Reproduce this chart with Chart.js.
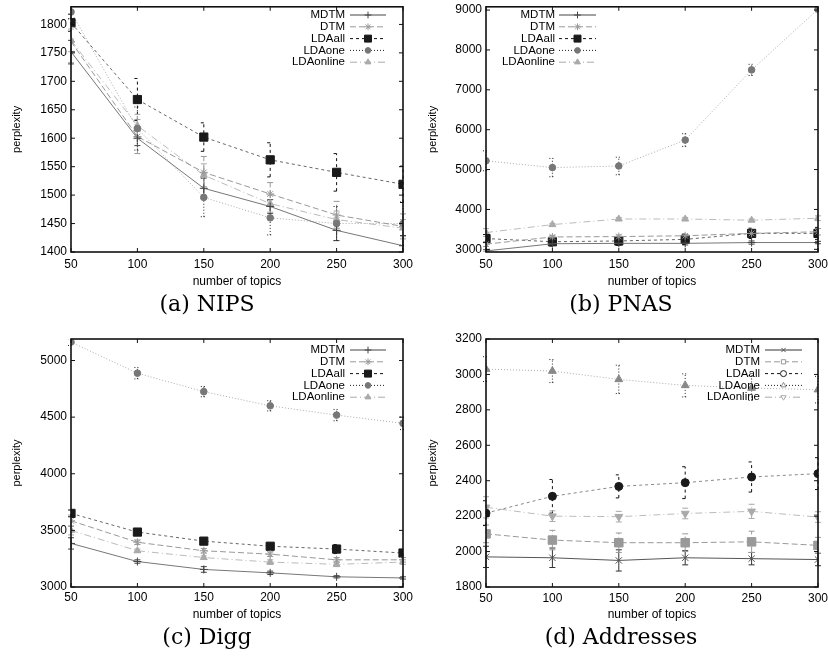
<!DOCTYPE html>
<html>
<head>
<meta charset="utf-8">
<script src="https://cdn.jsdelivr.net/npm/chart.js@4.4.0/dist/chart.umd.min.js"></script>
<style>
body { margin: 0; background: #fff; width: 828px; height: 662px; position: relative; overflow: hidden; }
canvas { position: absolute; }
.cap { position: absolute; width: 414px; text-align: center; font-family: "DejaVu Serif", serif; font-size: 22px; line-height: 26px; color: #000; }
</style>
</head>
<body>
<canvas id="nips" width="414" height="300" style="left:0;top:0"></canvas>
<canvas id="pnas" width="414" height="300" style="left:414px;top:0"></canvas>
<canvas id="digg" width="414" height="300" style="left:0;top:330px"></canvas>
<canvas id="addr" width="414" height="300" style="left:414px;top:330px"></canvas>
<div class="cap" style="left:0;top:291px">(a) NIPS</div>
<div class="cap" style="left:414px;top:291px">(b) PNAS</div>
<div class="cap" style="left:0;top:624px">(c) Digg</div>
<div class="cap" style="left:414px;top:624px">(d) Addresses</div>
<script>
var topics = [50, 100, 150, 200, 250, 300];
var methods = ["MDTM", "DTM", "LDAall", "LDAone", "LDAonline"];

// rows follow the order of methods
var nipsPerplexity = [
	[1752, 1600, 1512, 1480, 1438, 1411],
	[1770, 1603, 1540, 1502, 1465, 1445],
	[1803, 1668, 1602, 1562, 1540, 1519],
	[1822, 1617, 1496, 1460, 1450, 1450],
	[1772, 1622, 1535, 1485, 1457, 1442]
];
var nipsError = [
	[20, 13, 18, 12, 18, 18],
	[40, 30, 28, 20, 24, 22],
	[15, 37, 25, 30, 33, 32],
	[12, 38, 34, 30, 30, 38],
	[20, 20, 20, 15, 15, 15]
];
var nipsTicks = [1400, 1450, 1500, 1550, 1600, 1650, 1700, 1750, 1800];
var nipsRange = [1400, 1831];

var pnasPerplexity = [
	[2960, 3140, 3150, 3150, 3170, 3170],
	[3130, 3310, 3320, 3340, 3400, 3440],
	[3270, 3190, 3210, 3250, 3400, 3400],
	[5220, 5050, 5090, 5740, 7500, 9020],
	[3420, 3620, 3760, 3760, 3730, 3780]
];
var pnasError = [
	[30, 40, 50, 40, 40, 30],
	[60, 40, 40, 40, 80, 80],
	[100, 110, 110, 130, 130, 150],
	[250, 230, 220, 160, 140, 60],
	[100, 30, 40, 40, 30, 60]
];
var pnasTicks = [3000, 4000, 5000, 6000, 7000, 8000, 9000];
var pnasRange = [2933, 9082];

var diggPerplexity = [
	[3385, 3225, 3155, 3125, 3090, 3080],
	[3585, 3395, 3320, 3290, 3240, 3240],
	[3650, 3485, 3405, 3360, 3335, 3300],
	[5163, 4888, 4725, 4600, 4518, 4445],
	[3500, 3320, 3260, 3220, 3200, 3220]
];
var diggError = [
	[50, 15, 25, 15, 10, 10],
	[50, 20, 20, 20, 20, 20],
	[30, 15, 25, 25, 40, 30],
	[30, 50, 45, 45, 50, 55],
	[40, 15, 15, 20, 20, 20]
];
var diggTicks = [3000, 3500, 4000, 4500, 5000];
var diggRange = [3000, 5190];

var addrPerplexity = [
	[1970, 1965, 1950, 1965, 1960, 1955],
	[2100, 2065, 2050, 2050, 2055, 2035],
	[2217, 2312, 2368, 2389, 2421, 2440],
	[3030, 3019, 2972, 2938, 2923, 2914],
	[2250, 2200, 2197, 2215, 2227, 2195]
];
var addrError = [
	[60, 55, 60, 40, 35, 35],
	[50, 55, 55, 50, 60, 45],
	[70, 95, 65, 90, 85, 90],
	[70, 65, 80, 65, 70, 75],
	[60, 30, 30, 30, 40, 30]
];
var addrTicks = [1800, 2000, 2200, 2400, 2600, 2800, 3000, 3200];
var addrRange = [1800, 3200];

var FONT = '"Liberation Sans", Arial, sans-serif';

// gnuplot-ish line types, one per method
var lineTypes = [
	{ line: '#777', dash: [], point: 'cross', fill: '#444', mark: '#444', r: 4, err: '#444' },
	{ line: '#999', dash: [6, 3], point: 'star', fill: '#999', mark: '#999', r: 4, err: '#999' },
	{ line: '#666', dash: [3, 3], point: 'rect', fill: '#1a1a1a', mark: '#1a1a1a', r: 5.8, err: '#111' },
	{ line: '#aaa', dash: [1, 2], point: 'circle', fill: '#777', mark: '#777', r: 3.3, err: '#222' },
	{ line: '#bbb', dash: [7, 3, 1, 3], point: 'triangle', fill: '#aaa', mark: '#aaa', r: 4, err: '#aaa' }
];
var addrTypes = [
	{ line: '#555', dash: [], point: 'crossRot', fill: '#555', mark: '#555', r: 4.5, err: '#333' },
	{ line: '#999', dash: [6, 3], point: 'rect', fill: '#999', mark: '#999', r: 6, err: '#999' },
	{ line: '#888', dash: [3, 3], point: 'circle', fill: '#1a1a1a', mark: '#1a1a1a', r: 4, err: '#111' },
	{ line: '#aaa', dash: [1, 2], point: 'triangle', fill: '#888', mark: '#888', r: 4.5, err: '#222' },
	{ line: '#bbb', dash: [7, 3, 1, 3], point: 'triangle', fill: '#aaa', mark: '#aaa', r: 4.5, rot: 180, err: '#aaa' }
];

var errorBars = {
	id: 'errorBars',
	beforeDatasetsDraw: function(chart) {
		var ctx = chart.ctx, a = chart.chartArea, ys = chart.scales.y;
		ctx.save();
		ctx.beginPath();
		ctx.rect(a.left - 6, a.top, a.right - a.left + 12, a.bottom - a.top);
		ctx.clip();
		chart.data.datasets.forEach(function(ds, i) {
			var meta = chart.getDatasetMeta(i);
			ctx.strokeStyle = ds.errorColor;
			ctx.lineWidth = 1;
			ctx.setLineDash(ds.borderDash);
			meta.data.forEach(function(pt, j) {
				var v = ds.data[j].y, e = ds.errors[j];
				var y1 = ys.getPixelForValue(v - e), y2 = ys.getPixelForValue(v + e);
				ctx.beginPath();
				ctx.moveTo(pt.x, y1); ctx.lineTo(pt.x, y2);
				ctx.moveTo(pt.x - 3, y1); ctx.lineTo(pt.x + 3, y1);
				ctx.moveTo(pt.x - 3, y2); ctx.lineTo(pt.x + 3, y2);
				ctx.stroke();
			});
		});
		ctx.restore();
	}
};

var keyBox = {
	id: 'keyBox',
	afterDatasetsDraw: function(chart, args, o) {
		var ctx = chart.ctx;
		chart.data.datasets.forEach(function(ds, i) {
			var y = o.y0 + i * o.step;
			ctx.save();
			ctx.fillStyle = '#000';
			ctx.font = '11.5px ' + FONT;
			ctx.textAlign = 'right';
			ctx.textBaseline = 'middle';
			ctx.fillText(ds.label, o.textRight, y);
			ctx.strokeStyle = ds.errorColor;
			ctx.lineWidth = 1;
			ctx.setLineDash(ds.borderDash);
			ctx.beginPath();
			ctx.moveTo(o.x1, y); ctx.lineTo(o.x2, y);
			ctx.stroke();
			ctx.setLineDash([]);
			ctx.strokeStyle = ds.pointBorderColor;
			ctx.fillStyle = o.open ? '#fff' : ds.pointBackgroundColor;
			Chart.helpers.drawPoint(ctx, {
				pointStyle: ds.pointStyle,
				rotation: ds.pointRotation,
				radius: o.open ? 3 : ds.pointRadius * 0.85,
				borderWidth: 1
			}, (o.x1 + o.x2) / 2, y);
			ctx.restore();
		});
	}
};

// border box with inward ticks on all four sides
var frame = {
	id: 'frame',
	afterDraw: function(chart) {
		var ctx = chart.ctx, a = chart.chartArea, xs = chart.scales.x, ys = chart.scales.y, len = 4;
		ctx.save();
		ctx.strokeStyle = '#111';
		ctx.lineWidth = 1;
		ctx.beginPath();
		xs.ticks.forEach(function(t) {
			var x = xs.getPixelForValue(t.value);
			ctx.moveTo(x, a.bottom); ctx.lineTo(x, a.bottom - len);
			ctx.moveTo(x, a.top); ctx.lineTo(x, a.top + len);
		});
		ys.ticks.forEach(function(t) {
			var y = ys.getPixelForValue(t.value);
			ctx.moveTo(a.left, y); ctx.lineTo(a.left + len, y);
			ctx.moveTo(a.right, y); ctx.lineTo(a.right - len, y);
		});
		ctx.stroke();
		ctx.lineWidth = 1.6;
		ctx.strokeRect(a.left, a.top, a.right - a.left, a.bottom - a.top);
		ctx.restore();
	}
};

function makePanel(id, values, errors, yTicks, yRange, types, box, key) {
	var datasets = methods.map(function(name, i) {
		var st = types[i];
		return {
			label: name,
			data: topics.map(function(t, j) { return { x: t, y: values[i][j] }; }),
			errors: errors[i],
			errorColor: st.err,
			borderColor: st.line,
			borderDash: st.dash,
			borderWidth: 1,
			tension: 0,
			fill: false,
			pointStyle: st.point,
			pointRadius: st.r,
			pointRotation: st.rot || 0,
			pointBackgroundColor: st.fill,
			pointBorderColor: st.mark,
			pointBorderWidth: 1
		};
	});

	new Chart(document.getElementById(id), {
		type: 'line',
		data: { datasets: datasets },
		plugins: [errorBars, keyBox, frame],
		options: {
			responsive: false,
			animation: false,
			devicePixelRatio: 1,
			layout: { padding: { left: 0, top: box.t, right: 414 - box.r, bottom: 0 } },
			plugins: {
				legend: { display: false },
				tooltip: { enabled: false },
				keyBox: key
			},
			scales: {
				x: {
					type: 'linear',
					min: 50,
					max: 300,
					afterBuildTicks: function(s) { s.ticks = topics.map(function(v) { return { value: v }; }); },
					afterFit: function(s) { s.height = 300 - box.b; s.paddingLeft = 0; s.paddingRight = 0; },
					grid: { display: false, drawTicks: false },
					border: { display: false },
					ticks: {
						padding: box.xPad, maxRotation: 0, autoSkip: false, color: '#000',
						font: { family: FONT, size: 12 },
						callback: function(v) { return String(v); }
					},
					title: {
						display: true, text: 'number of topics', color: '#000',
						font: { family: FONT, size: 12 },
						padding: { top: 0, bottom: 300 - box.xTitle - 7.2 }
					}
				},
				y: {
					min: yRange[0],
					max: yRange[1],
					afterBuildTicks: function(s) { s.ticks = yTicks.map(function(v) { return { value: v }; }); },
					afterFit: function(s) { s.width = box.l; s.paddingTop = 0; s.paddingBottom = 0; },
					grid: { display: false, drawTicks: false },
					border: { display: false },
					ticks: {
						padding: 4, autoSkip: false, color: '#000',
						font: { family: FONT, size: 12 },
						callback: function(v) { return String(v); }
					},
					title: {
						display: true, text: 'perplexity', color: '#000',
						font: { family: FONT, size: 11 },
						padding: { top: box.yTitle - 6.6, bottom: 0 }
					}
				}
			}
		}
	});
}

makePanel('nips', nipsPerplexity, nipsError, nipsTicks, nipsRange, lineTypes,
	{ l: 71, t: 4, r: 403, b: 252, xPad: 5.5, xTitle: 282, yTitle: 17 },
	{ textRight: 345, x1: 350, x2: 386, y0: 15, step: 11.8 });
makePanel('pnas', pnasPerplexity, pnasError, pnasTicks, pnasRange, lineTypes,
	{ l: 72, t: 4, r: 404, b: 252, xPad: 5, xTitle: 282, yTitle: 19 },
	{ textRight: 141, x1: 145, x2: 182, y0: 15, step: 11.8 });
makePanel('digg', diggPerplexity, diggError, diggTicks, diggRange, lineTypes,
	{ l: 71, t: 9, r: 403, b: 257, xPad: 3.5, xTitle: 285, yTitle: 17 },
	{ textRight: 345, x1: 350, x2: 386, y0: 20, step: 11.8 });
makePanel('addr', addrPerplexity, addrError, addrTicks, addrRange, addrTypes,
	{ l: 72, t: 9, r: 404, b: 257, xPad: 4, xTitle: 285, yTitle: 19 },
	{ textRight: 346, x1: 351, x2: 388, y0: 20, step: 11.8, open: true });
</script>
</body>
</html>
